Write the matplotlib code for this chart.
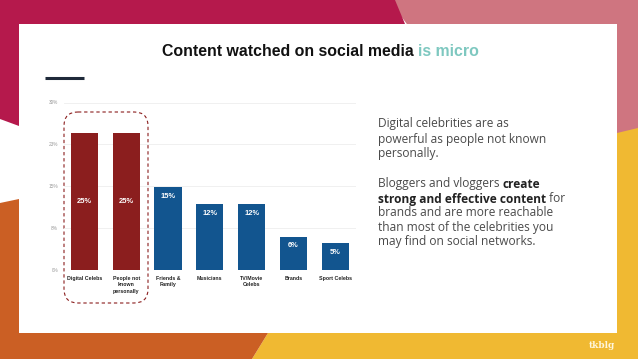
import matplotlib.pyplot as plt
from matplotlib.patches import Polygon, Circle, FancyBboxPatch

# chart data
categories = ["Digital Celebs", "People not\nknown\npersonally", "Friends &\nFamily",
              "Musicians", "TV/Movie\nCelebs", "Brands", "Sport Celebs"]
shares = [24.6, 24.6, 14.8, 11.8, 11.8, 5.9, 4.8]
highlighted = [True, True, False, False, False, False, False]
y_ticks = [0, 7.5, 15, 22.5, 30]
y_tick_labels = ["0%", "8%", "15%", "23%", "30%"]

RED = '#8B1E1E'
BLUE = '#12558F'
TEAL = '#7EC8C0'

fig = plt.figure(figsize=(6.38, 3.59), dpi=100)
fig.patch.set_facecolor('white')

# background layer in pixel coordinates
bg = fig.add_axes([0, 0, 1, 1], zorder=0)
bg.set_xlim(0, 638)
bg.set_ylim(359, 0)
bg.axis('off')

bg.add_patch(Circle((640, -150), 291, color='#CF7580', lw=0))
bg.add_patch(Polygon([(0, 0), (395, 0), (405, 24), (19, 24), (19, 126), (0, 119)],
                     closed=True, color='#B5194C', lw=0))
bg.add_patch(Polygon([(617, 133), (638, 128), (638, 359), (252, 359), (268, 333), (617, 333)],
                     closed=True, color='#F0B932', lw=0))
bg.add_patch(Polygon([(0, 203), (19, 199), (19, 333), (268, 333), (252, 359), (0, 359)],
                     closed=True, color='#CB5F24', lw=0))
bg.add_patch(Polygon([(19, 24), (617, 24), (617, 333), (19, 333)],
                     closed=True, color='white', lw=0))

# short dark rule under title
bg.plot([45, 84], [78, 78], color='#1F2A3A', lw=2.2, solid_capstyle='butt')

# dashed frame round the first two bars
bg.add_patch(FancyBboxPatch((64, 112), 84, 191, boxstyle='round,pad=0,rounding_size=14',
                            fill=False, ec=RED, lw=0.8, ls=(0, (3, 2.5))))

fig.canvas.draw()
renderer = fig.canvas.get_renderer()


def text_run(x, y, parts, **kw):
    # draw several text pieces side by side on one line
    for s, weight, color in parts:
        t = bg.text(x, y, s, fontweight=weight, color=color, va='center', ha='left', **kw)
        x += t.get_window_extent(renderer).width
    return x


# title, centred
title_font = dict(family='Liberation Sans', fontsize=11.4)
title_parts = [("Content watched on social media ", 'bold', '#111111'), ("is micro", 'bold', TEAL)]
tmp = [bg.text(0, 0, s, fontweight=w, **title_font) for s, w, c in title_parts]
total = sum(t.get_window_extent(renderer).width for t in tmp)
for t in tmp:
    t.remove()
text_run(320 - total / 2, 52, title_parts, **title_font)

# side text
grey = '#4A4A4A'
para_font = dict(family='Open Sans', fontsize=8.6)
lines = [
    (124, [("Digital celebrities are as", 'normal', grey)]),
    (139, [("powerful as people not known", 'normal', grey)]),
    (154, [("personally.", 'normal', grey)]),
    (184, [("Bloggers and vloggers ", 'normal', grey), ("create", 'bold', '#222222')]),
    (199, [("strong and effective content", 'bold', '#222222'), (" for", 'normal', grey)]),
    (213, [("brands and are more reachable", 'normal', grey)]),
    (227, [("than most of the celebrities you", 'normal', grey)]),
    (241, [("may find on social networks.", 'normal', grey)]),
]
for y, parts in lines:
    text_run(378, y, parts, **para_font)

bg.text(602, 346, "tkblg", color='#FFF6DC', fontsize=6.5, fontweight='bold',
        family='DejaVu Serif', ha='center', va='center')

# bar chart
ax = fig.add_axes([63.6 / 638, 89 / 359, 292.5 / 638, 167.5 / 359], zorder=1)
ax.set_facecolor('none')
x = list(range(len(categories)))
colors = [RED if h else BLUE for h in highlighted]
ax.bar(x, shares, width=0.65, color=colors, zorder=2)

for i, v in enumerate(shares):
    ypos = v / 2 if highlighted[i] else v - 1.6
    ax.text(i, ypos, f"{v:.0f}%", color='white', fontsize=5.4, fontweight='bold',
            ha='center', va='center', family='Liberation Sans', zorder=3)

ax.set_xlim(-0.5, 6.5)
ax.set_ylim(0, 30)
ax.set_yticks(y_ticks)
ax.set_yticklabels(y_tick_labels, fontsize=3.4, color='#9A9A9A', family='Liberation Sans')
ax.set_xticks(x)
ax.set_xticklabels(categories, fontsize=3.8, color='#222222', family='Liberation Sans',
                   fontweight='bold', linespacing=1.4, va='top')
ax.tick_params(axis='both', length=0, pad=4)
ax.grid(axis='y', color='#EEEEEE', lw=0.6, zorder=0)
for s in ax.spines.values():
    s.set_visible(False)

fig.savefig('out.png', dpi=100)
